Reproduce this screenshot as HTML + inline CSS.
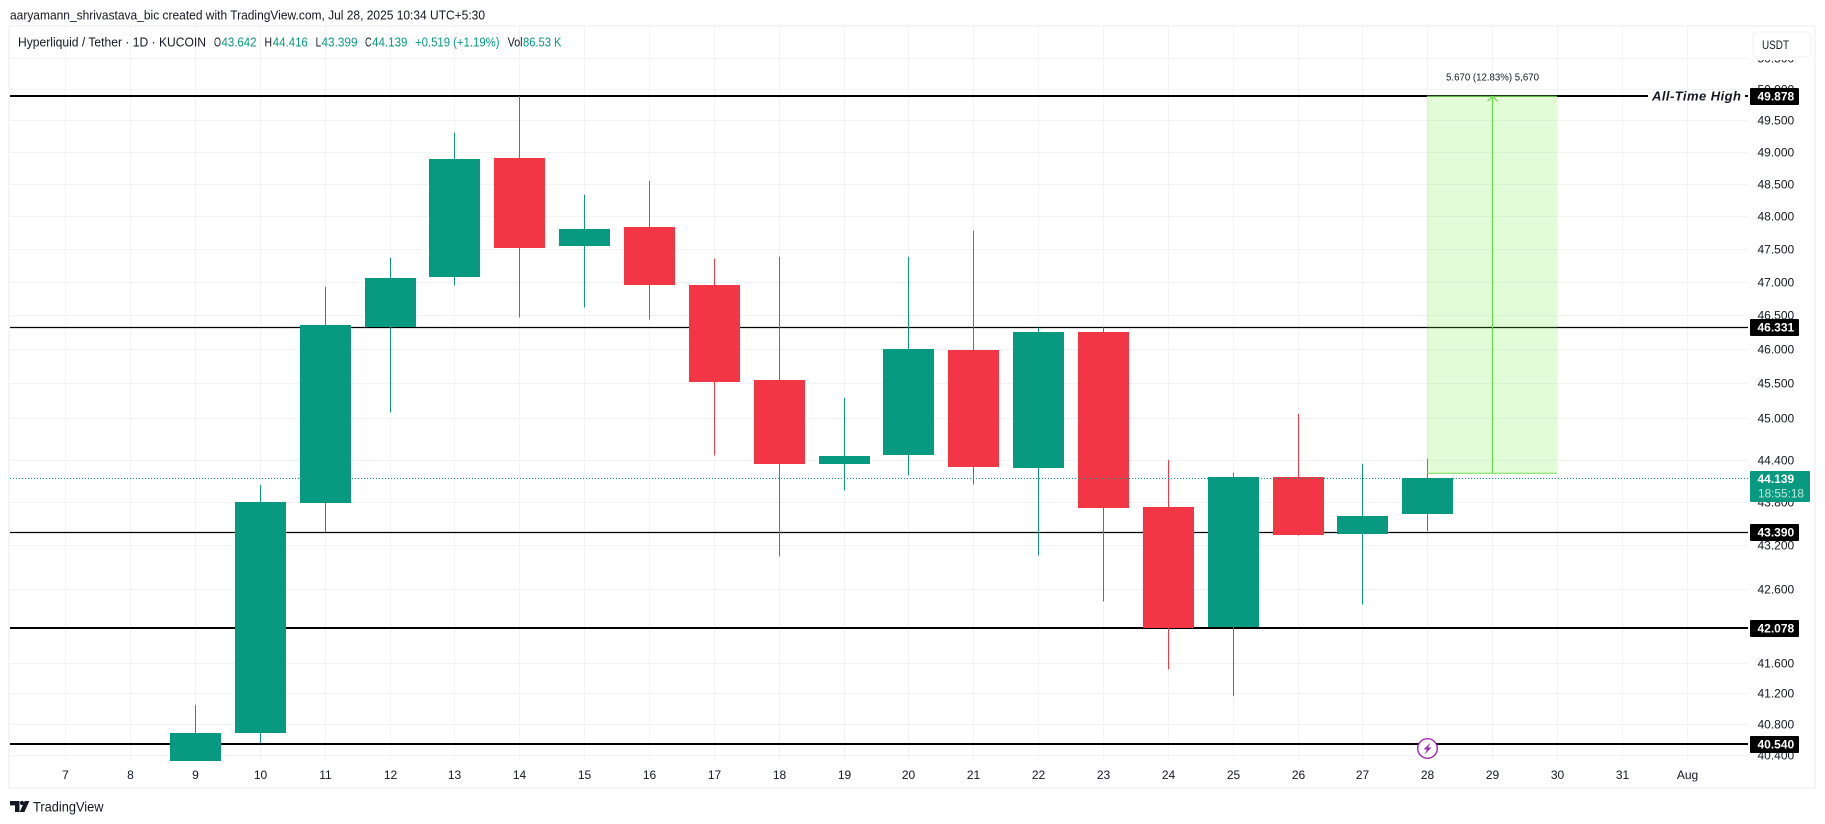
<!DOCTYPE html>
<html lang="en">
<head>
<meta charset="utf-8">
<title>Hyperliquid / Tether 1D chart</title>
<style>
html,body{margin:0;padding:0;background:#fff;width:1825px;height:824px;overflow:hidden}
svg{display:block;font-family:"Liberation Sans",sans-serif}
text{fill:#131722}
</style>
</head>
<body>
<svg id="chart" xmlns="http://www.w3.org/2000/svg" width="1825" height="824" viewBox="0 0 1825 824">
  <defs>
    <clipPath id="pane-clip"><rect x="10" y="27" width="1738" height="734"/></clipPath>
  </defs>
  <rect x="0" y="0" width="1825" height="824" fill="#ffffff"/>
  <text x="10" y="19.5" font-size="13" textLength="475" lengthAdjust="spacingAndGlyphs">aaryamann_shrivastava_bic created with TradingView.com, Jul 28, 2025 10:34 UTC+5:30</text>
  <rect x="9" y="26" width="1806" height="762" fill="none" stroke="#f4f5f7" stroke-width="2"/>
  <g id="grid"></g>
  <g id="pane" clip-path="url(#pane-clip)">
    <g id="levels"></g>
    <g id="candles"></g>
    <g id="measure"></g>
    <line id="last-line" x1="10" x2="1748" stroke="#089981" stroke-width="1" stroke-dasharray="1 2"/>
  </g>
  <g id="y-axis"></g>
  <g id="x-axis"></g>

  <g font-size="12.5">
    <text x="18" y="46.5" textLength="188" lengthAdjust="spacingAndGlyphs">Hyperliquid / Tether · 1D · KUCOIN</text>
    <text x="214" y="46.5" textLength="7" lengthAdjust="spacingAndGlyphs">O</text>
    <text x="221.5" y="46.5" style="fill:#089981" textLength="35" lengthAdjust="spacingAndGlyphs">43.642</text>
    <text x="264.5" y="46.5" textLength="7.5" lengthAdjust="spacingAndGlyphs">H</text>
    <text x="272.8" y="46.5" style="fill:#089981" textLength="35" lengthAdjust="spacingAndGlyphs">44.416</text>
    <text x="315.6" y="46.5" textLength="5.4" lengthAdjust="spacingAndGlyphs">L</text>
    <text x="321.5" y="46.5" style="fill:#089981" textLength="36" lengthAdjust="spacingAndGlyphs">43.399</text>
    <text x="365" y="46.5" textLength="6.6" lengthAdjust="spacingAndGlyphs">C</text>
    <text x="372" y="46.5" style="fill:#089981" textLength="35.5" lengthAdjust="spacingAndGlyphs">44.139</text>
    <text x="415" y="46.5" style="fill:#089981" textLength="84.5" lengthAdjust="spacingAndGlyphs">+0.519 (+1.19%)</text>
    <text x="507.6" y="46.5" textLength="15" lengthAdjust="spacingAndGlyphs">Vol</text>
    <text x="523" y="46.5" style="fill:#089981" textLength="38.5" lengthAdjust="spacingAndGlyphs">86.53 K</text>
  </g>

  <g>
    <rect x="1749" y="28" width="65" height="32" fill="#ffffff"/>
    <rect x="1753" y="32" width="58" height="25" rx="4" fill="#ffffff" stroke="#f0f1f4" stroke-width="1"/>
    <text x="1762" y="49" font-size="12" textLength="27" lengthAdjust="spacingAndGlyphs">USDT</text>
  </g>

  <g>
    <circle cx="1427.5" cy="748.5" r="9.8" fill="#ffffff" stroke="#9c27b0" stroke-width="1.4"/>
    <path d="M1430.5 742.5 L1423.5 749.5 L1427 749.5 L1424.5 754.5 L1431.5 747.5 L1428 747.5 Z" fill="#9c27b0"/>
  </g>

  <g>
    <path d="M10 801 H19.5 V812 H15 V805.4 H10 Z M24.7 801 H29.4 L24.4 812 H19.7 Z" fill="#131722"/>
    <circle cx="22" cy="803" r="2.1" fill="#131722"/>
    <text x="33" y="811.5" font-size="14" textLength="70.5" lengthAdjust="spacingAndGlyphs">TradingView</text>
  </g>
</svg>

<script>
// ---- chart data ----
const dayLabels = ['7','8','9','10','11','12','13','14','15','16','17','18','19','20','21','22','23','24','25','26','27','28','29','30','31','Aug'];
const candleDays = ['9','10','11','12','13','14','15','16','17','18','19','20','21','22','23','24','25','26','27','28'];
const opens  = [40.30,40.684,43.792,46.331,47.082,48.905,47.537,47.838,46.958,45.551,44.333,44.461,45.990,44.276,46.256,43.737,42.089,44.159,43.364,43.642];
const highs  = [41.050,44.045,46.927,47.365,49.299,49.878,48.330,48.547,47.350,47.380,45.289,47.380,47.776,46.320,46.320,44.399,44.215,45.058,44.343,44.416];
const lows   = [40.10,40.550,43.383,45.076,46.947,46.468,46.617,46.438,44.461,43.046,43.966,44.177,44.050,43.060,42.430,41.517,41.165,43.336,42.390,43.399];
const closes = [40.684,43.807,46.360,47.063,48.890,47.521,47.807,46.947,45.522,44.333,44.456,46.005,44.290,46.256,43.713,42.075,44.159,43.350,43.610,44.139];
const priceTicks = [50.5,50,49.5,49,48.5,48,47.5,47,46.5,46,45.5,45,44.4,43.8,43.2,42.6,41.6,41.2,40.8,40.4];
const levelPrices = [49.878,46.331,43.390,42.078,40.540];
const levelWeights = [2,1,1,2,2];
const lastPrice = 44.139;
const countdownLabel = '18:55:18';
const measureFromPrice = 44.208;
const measureToPrice = 49.878;
const measureStartDay = '28';
const measureEndDay = '30';
const measureLabel = '5.670 (12.83%) 5,670';
const athLabel = 'All-Time High';

// ---- axis functions ----
const NS = 'http://www.w3.org/2000/svg';
const xOf = function (label) { return Math.floor(65.7 + 64.86 * dayLabels.indexOf(label)) + 0.5; };
const yOf = function (price) { return 96.3 + 3124 * Math.log(49.878 / price); };
const GREEN = '#089981', RED = '#f23645';

function mk(tag, parent, attrs) {
  const el = document.createElementNS(NS, tag);
  Object.keys(attrs).forEach(function (k) { el.setAttribute(k, attrs[k]); });
  parent.appendChild(el);
  return el;
}

const grid = document.getElementById('grid');
const levelsG = document.getElementById('levels');
const candlesG = document.getElementById('candles');
const measureG = document.getElementById('measure');
const yAxis = document.getElementById('y-axis');
const xAxis = document.getElementById('x-axis');

// grid + time axis
dayLabels.forEach(function (label) {
  const x = xOf(label);
  const v = mk('line', grid, {x1: x, x2: x, y1: 27, y2: 761, stroke: '#f2f3f6', 'stroke-width': 1});
  
  
  const t = mk('text', xAxis, {x: x, y: 779, 'font-size': 12, 'text-anchor': 'middle'});
  t.textContent = label;
  
  
});

// grid + price axis ticks
priceTicks.forEach(function (p) {
  const y = Math.round(yOf(p)) + 0.5;
  const h = mk('line', grid, {x1: 10, x2: 1748, y1: y, y2: y, stroke: '#f2f3f6', 'stroke-width': 1});
  
  
  const t = mk('text', yAxis, {x: 1757.5, y: y + 4.2, 'font-size': 12});
  t.textContent = p.toFixed(3);
  
  
});

// horizontal levels
levelPrices.forEach(function (p, i) {
  const w = levelWeights[i];
  const y = w === 2 ? Math.round(yOf(p)) : Math.round(yOf(p)) + 0.5;
  const l = mk('line', levelsG, {x1: 10, x2: 1748, y1: y, y2: y, stroke: '#000000', 'stroke-width': w === 2 ? 2 : 1.3});
  
  
});

// candles
candleDays.forEach(function (day, i) {
  const o = opens[i], h = highs[i], l = lows[i], c = closes[i];
  const color = c >= o ? GREEN : RED;
  const cx = xOf(day);
  const top = Math.round(yOf(Math.max(o, c)));
  const bottom = Math.round(yOf(Math.min(o, c)));
  const wick = mk('line', candlesG, {x1: cx, x2: cx, y1: yOf(h), y2: yOf(l), stroke: color, 'stroke-width': 1});
  
  
  const body = mk('rect', candlesG, {x: cx - 25.5, y: top, width: 51, height: Math.max(1, bottom - top), fill: color});
  
  
});

// last price line
const lastLine = document.getElementById('last-line');
const lastY = Math.round(yOf(lastPrice)) + 0.5;
lastLine.setAttribute('y1', lastY);
lastLine.setAttribute('y2', lastY);

// measure tool
const mx1 = xOf(measureStartDay) - 0.5, mx2 = xOf(measureEndDay) - 0.5;
const myTop = yOf(measureToPrice), myBot = yOf(measureFromPrice);
const mxc = (mx1 + mx2) / 2 + 0.5;
const mRect = mk('rect', measureG, {x: mx1, y: myTop, width: mx2 - mx1, height: myBot - myTop, fill: 'rgb(110,240,60)', 'fill-opacity': 0.2});


const mTop = mk('line', measureG, {x1: mx1, x2: mx2, y1: myTop, y2: myTop, stroke: '#7ce35f', 'stroke-width': 1});


const mBot = mk('line', measureG, {x1: mx1, x2: mx2, y1: myBot, y2: myBot, stroke: '#6fdc52', 'stroke-width': 1});


const mArrow = mk('line', measureG, {x1: mxc, x2: mxc, y1: myBot, y2: myTop, stroke: '#66dd4a', 'stroke-width': 1.2});


const mHead = mk('polyline', measureG, {points: (mxc - 5) + ',' + (myTop + 5) + ' ' + mxc + ',' + myTop + ' ' + (mxc + 5) + ',' + (myTop + 5), fill: 'none', stroke: '#66dd4a', 'stroke-width': 1.2});


const mText = mk('text', yAxis, {x: mxc, y: myTop - 16, 'font-size': 10, 'text-anchor': 'middle', textLength: 93, lengthAdjust: 'spacingAndGlyphs'});
mText.textContent = measureLabel;



// all-time-high text on its level line
const athY = Math.round(yOf(levelPrices[0]));
const athMask = mk('rect', yAxis, {x: 1648, y: athY - 3, width: 97, height: 6, fill: '#ffffff'});


const athText = mk('text', yAxis, {x: 1652, y: athY + 4.5, 'font-size': 13, 'font-weight': 'bold', 'font-style': 'italic', textLength: 89, lengthAdjust: 'spacing'});
athText.textContent = athLabel;



// level price labels
levelPrices.forEach(function (p) {
  const y = Math.round(yOf(p));
  const box = mk('rect', yAxis, {x: 1750, y: y - 8, width: 49, height: 17, rx: 1, fill: '#000000'});
  
  
  const t = mk('text', yAxis, {x: 1757.5, y: y + 4.7, 'font-size': 12, 'font-weight': 'bold', style: 'fill:#ffffff'});
  t.textContent = p.toFixed(3);
  
  
});

// last price label
const lastBox = mk('rect', yAxis, {x: 1750, y: lastY - 7.5, width: 60, height: 31, rx: 1, fill: GREEN});


const lastT = mk('text', yAxis, {x: 1757.5, y: lastY + 4.5, 'font-size': 12, 'font-weight': 'bold', style: 'fill:#ffffff'});
lastT.textContent = lastPrice.toFixed(3);


const cdT = mk('text', yAxis, {x: 1758, y: lastY + 19, 'font-size': 12, textLength: 46, lengthAdjust: 'spacingAndGlyphs', style: 'fill:#bfe9e0'});
cdT.textContent = countdownLabel;


</script>
</body>
</html>
